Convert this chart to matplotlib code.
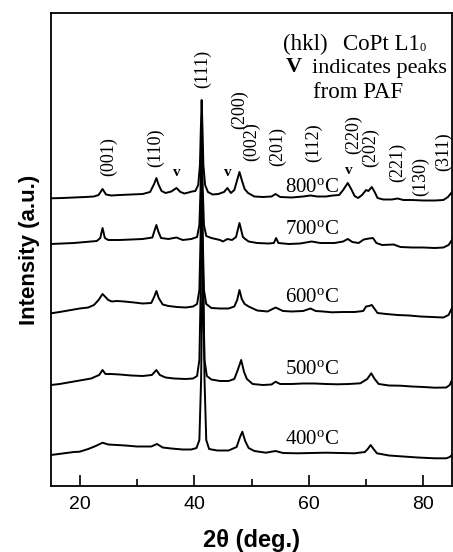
import matplotlib
matplotlib.use("Agg")
import matplotlib.pyplot as plt

plt.rcParams['mathtext.fontset'] = 'custom'
plt.rcParams['mathtext.rm'] = 'Liberation Serif'
plt.rcParams['mathtext.it'] = 'Liberation Serif:italic'
plt.rcParams['mathtext.bf'] = 'Liberation Serif:bold'

# ---------------- data (2theta in deg, intensity in a.u.) ----------------
temps = ["400", "500", "600", "700", "800"]
offsets = [20, 90, 160, 230, 275]

x800 = [15, 17, 19, 21, 22.5, 23.3, 24.0, 24.6, 25.5, 27, 29, 31, 32.3, 33.0, 33.4, 33.8,
        34.3, 35.0, 36.0, 36.9, 37.6, 38.3, 39.0, 39.6, 40.2, 40.7, 41.0, 41.15, 41.3, 41.45,
        41.6, 41.9, 42.4, 43.2, 44.2, 45.2, 45.8, 46.4, 47.0, 47.5, 47.9, 48.3, 48.8, 49.4,
        50.5, 52, 53.5, 54.2, 55.0, 57, 59, 60.3, 61.5, 63.0, 64.2, 65.3, 66.0, 66.8, 67.4,
        68.0, 68.6, 69.3, 70.0, 70.4, 71.0, 71.5, 72.0, 73.0, 74.5, 75.5, 76.5, 78, 80, 82,
        83.5, 84.3, 85]
y800 = [12.7, 13, 13.5, 14, 14.5, 16, 22, 16.5, 15.5, 16, 16.5, 17, 19, 27, 33, 26,
        20, 18, 19.5, 23, 19, 17.5, 18.5, 19.5, 20, 26, 46, 81, 111, 81,
        46, 26, 19, 16.5, 17, 19, 23, 18, 21, 31, 39, 31, 22, 18,
        14.5, 14, 14.5, 17, 14, 13.5, 14.5, 15.5, 14.5, 14.5, 15.5, 16, 21, 28, 22,
        15, 13, 16, 21, 20, 24, 19, 13, 11.5, 11.5, 12.5, 11, 11, 10.5, 10.5,
        11, 14, 19]

x700 = [15, 17, 19, 21, 23, 23.6, 24.0, 24.4, 25, 27, 29, 31, 32.7, 33.1, 33.4, 33.7,
        34.2, 35.5, 36.9, 38.0, 39.5, 40.5, 40.9, 41.1, 41.3, 41.5, 41.7, 42.1, 43.0, 44.5,
        45.0, 45.8, 46.6, 47.3, 47.6, 47.9, 48.2, 48.5, 48.9, 49.5, 51, 53, 53.9, 54.3, 54.7,
        56.5, 58.5, 60.5, 62.0, 64.5, 66.0, 66.8, 67.6, 68.7, 69.6, 70.5, 71.2, 71.8, 72.8,
        74.8, 76, 78, 80, 82, 83.5, 84.4, 85]
y700 = [12, 12.5, 13, 14, 15, 18, 28, 18, 16, 16, 16.5, 17, 18.5, 26, 31, 25,
        18, 17, 18.5, 16, 17, 19, 31, 66, 126, 66, 31, 20, 18, 16,
        14.5, 17, 16, 19, 26, 33, 26, 19, 17, 14.5, 13, 12.5, 13, 18, 13,
        12, 12.5, 14.5, 13, 13, 14.5, 17, 14, 13, 16.5, 17.5, 18, 13, 11,
        11.5, 9, 8.5, 8.5, 8, 8.5, 11, 16]

x600 = [15, 16.5, 18, 20, 21.5, 22.5, 23.3, 24.0, 24.5, 25.0, 25.6, 26.5, 27.8, 29.5, 31,
        32.5, 33.0, 33.4, 33.8, 34.5, 35.5, 37, 38.5, 39.8, 40.5, 40.9, 41.1, 41.3, 41.5,
        41.7, 42.1, 43, 44.5, 46.0, 47.0, 47.5, 47.9, 48.3, 48.8, 49.5, 51, 52.8, 54.2, 55.5,
        57, 59, 60.3, 61.2, 62.5, 64.0, 66, 68, 69.5, 70.0, 70.5, 71.0, 71.5, 72.0, 73.5,
        75.5, 77.5, 79.5, 81.5, 83.5, 84.4, 85]
y600 = [12.7, 14, 15.5, 17.5, 18.5, 21, 26, 32, 29, 26, 24.5, 25, 24.5, 23.5, 22.5,
        23, 29, 35, 28, 21.5, 20, 19, 18.5, 19.5, 22, 36, 86, 166, 86,
        36, 22, 18, 17.5, 17.5, 19.5, 26, 36, 27, 22, 19.5, 15.5, 14.5, 18.5, 15,
        14.5, 15, 17.5, 15, 14.5, 13.7, 14, 14, 15, 19.5, 20, 21, 17, 13, 12,
        11, 10.5, 9.5, 9, 8.5, 11, 18]

x500 = [15, 16.5, 18, 20, 22, 23.4, 24.0, 24.5, 25.5, 27, 29, 31, 32.6, 33.4, 34.0, 35,
        36.5, 38.5, 39.8, 40.5, 40.9, 41.1, 41.35, 41.6, 41.8, 42.2, 43, 44.5, 46, 47.0,
        47.6, 48.2, 48.7, 49.2, 50.2, 52, 53.5, 54.2, 55, 57, 59, 61, 63, 65, 67, 69,
        70.2, 70.9, 71.5, 72.2, 74, 76, 78, 80, 82, 84, 84.6, 85]
y500 = [11, 12, 13.5, 15.5, 17.5, 21, 26, 22, 22, 21.5, 20.5, 20, 21, 26, 21, 18.5,
        17.5, 17, 17.5, 20, 36, 96, 196, 96, 36, 20, 16.5, 15, 15, 17,
        26, 36, 24, 17, 12, 11, 11.5, 14.3, 12, 12, 12.5, 12.5, 12, 11.7, 12, 12.7,
        17, 22.7, 17, 12, 10.5, 10.3, 9.5, 9, 8.3, 8.5, 11, 16]

x400 = [15, 17, 19, 20, 21.5, 22.8, 24.0, 25, 26.5, 28, 30, 32.5, 33.5, 34.5, 36, 38,
        39.5, 40.4, 40.9, 41.2, 41.5, 41.8, 42.1, 42.6, 44, 46, 47.4, 48.0, 48.4, 48.9,
        49.5, 50.5, 52.5, 54.2, 55.5, 58, 60.5, 63, 65.5, 68, 69.8, 70.3, 70.8, 71.3, 71.9,
        74, 76.5, 79, 82, 84, 84.6, 85]
y400 = [11, 12.5, 14, 14.3, 17, 20, 23.3, 21.5, 21, 20.5, 19.5, 19.5, 22, 18.5, 17.5, 16.5,
        16.5, 18, 26, 86, 216, 86, 26, 17, 15.5, 15.5, 19, 29, 34.3, 25,
        18, 15, 13.3, 15, 13, 12.7, 13, 13.3, 13, 12.7, 14, 17, 21, 17, 12.7,
        10.5, 9.5, 8.5, 7.7, 7.7, 9, 11]

hkl_labels = ["(001)", "(110)", "(111)", "(200)", "(002)", "(201)", "(112)",
              "(220)", "(202)", "(221)", "(130)", "(311)"]
hkl_x = [25.0, 33.2, 41.4, 48.0, 50.1, 54.5, 60.8, 67.8, 70.8, 75.5, 79.5, 83.5]
hkl_y = [329, 338, 417, 376, 344, 339, 343, 351, 338, 324, 309, 334]

paf_x = [37.0, 45.9, 66.9]
paf_y = [313, 314, 316]

xticks_major = [20, 40, 60, 80]
xticks_minor = [30, 50, 70]

# ---------------- figure ----------------
fig = plt.figure(figsize=(4.53, 5.52), dpi=100)
ax = fig.add_axes([51/453, 1-486/552, 401/453, 473/552])

xs = [x400, x500, x600, x700, x800]
ys = [y400, y500, y600, y700, y800]
for xv, yv, off in zip(xs, ys, offsets):
    ax.plot(xv, [v + off for v in yv], color='black', lw=1.4, solid_joinstyle='round')

temp_y = [46, 116, 189, 256, 299]
for t, ty in zip(temps, temp_y):
    ax.text(60.5, ty, t + r'$^{\mathrm{o}}$C', fontsize=15, family='Liberation Serif',
            ha='center', va='center')

for lab, hx, hy in zip(hkl_labels, hkl_x, hkl_y):
    ax.text(hx, hy, lab, rotation=90, fontsize=13, family='Liberation Serif',
            ha='center', va='center')

for px_, py_ in zip(paf_x, paf_y):
    ax.text(px_, py_, 'v', fontsize=11, family='Liberation Serif', fontweight='bold',
            ha='center', va='center')

ax.text(55.56, 442, '(hkl)', fontsize=16.5, family='Liberation Serif',
        ha='left', va='center')
ax.text(66.05, 442, 'CoPt L1', fontsize=16.5, family='Liberation Serif',
        ha='left', va='center')
ax.text(79.3, 438, '0', fontsize=9, family='Liberation Serif',
        ha='left', va='center')
ax.text(55.9, 419, 'V', fontsize=16, family='Liberation Serif', fontweight='bold',
        ha='left', va='center')
ax.text(60.6, 418, 'indicates peaks', fontsize=16, family='Liberation Serif',
        ha='left', va='center')
ax.text(60.8, 394, 'from PAF', fontsize=16.5, family='Liberation Serif',
        ha='left', va='center')

ax.set_xlim(15, 85)
ax.set_ylim(0, 473)
ax.set_xticks(xticks_major)
ax.set_xticks(xticks_minor, minor=True)
ax.set_yticks([])
ax.tick_params(axis='x', which='major', direction='in', length=8, width=1.2,
               labelsize=14, pad=7)
ax.tick_params(axis='x', which='minor', direction='in', length=5, width=1.2)
for lab in ax.get_xticklabels():
    lab.set_family('Liberation Sans')
for s in ax.spines.values():
    s.set_linewidth(1.3)

ax.set_xlabel('2θ (deg.)', fontsize=17, fontweight='bold', family='Liberation Sans',
              labelpad=12)
ax.set_ylabel('Intensity (a.u.)', fontsize=16, fontweight='bold', family='Liberation Sans',
              labelpad=8)

fig.savefig('out.png', dpi=100)
